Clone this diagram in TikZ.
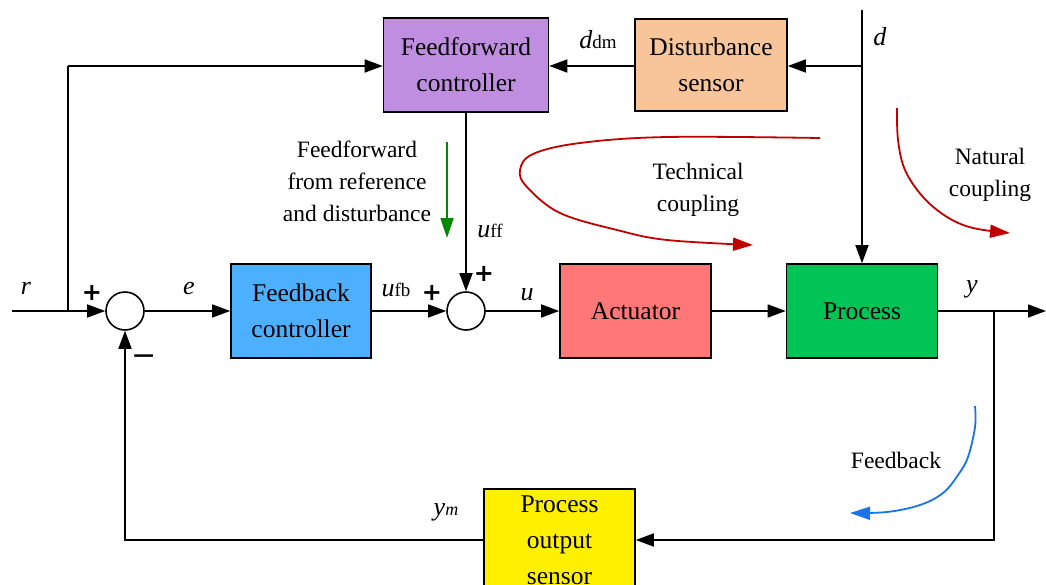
\documentclass[tikz,border=0pt]{standalone}
\usepackage{fontspec}
\setmainfont{Liberation Serif}
\newfontfamily\signfont{DejaVu Sans}
\usetikzlibrary{arrows.meta}
\definecolor{ffcol}{HTML}{BF8EE0}
\definecolor{dscol}{HTML}{F8C59B}
\definecolor{fbcol}{HTML}{4DB0FF}
\definecolor{actcol}{HTML}{FF7777}
\definecolor{proccol}{HTML}{00C456}
\definecolor{senscol}{HTML}{FFF000}
\definecolor{redc}{HTML}{C00000}
\definecolor{greenc}{HTML}{008A00}
\definecolor{bluec}{HTML}{1A73E8}
\newcommand{\sub}[2]{\textit{#1}{\fontsize{19}{19}\selectfont #2}}
\tikzset{
  blk/.style={draw=black, line width=1.6pt, inner sep=0pt, align=center,
    font=\fontsize{25.5}{36}\selectfont},
  sumj/.style={draw=black, line width=1.6pt, circle, fill=white, minimum size=38pt, inner sep=0pt},
  wire/.style={line width=1.6pt, -{Triangle[length=18pt,width=13pt]}},
  pline/.style={line width=1.6pt},
  lbl/.style={font=\fontsize{26}{30}\selectfont, inner sep=0pt},
  ann/.style={font=\fontsize{23.5}{32}\selectfont, align=center, inner sep=0pt},
  sgn/.style={font=\signfont\bfseries\fontsize{24}{24}\selectfont, inner sep=0pt},
  msgn/.style={font=\signfont\fontsize{30}{30}\selectfont, inner sep=0pt},
  curv/.style={line width=1.8pt, -{Triangle[length=20pt,width=13pt]}},
}
\begin{document}
\begin{tikzpicture}[x=1pt,y=-1pt]
\useasboundingbox (0,0) rectangle (1046,584);
% blocks
\node[blk, fill=ffcol, minimum width=165pt, minimum height=94pt] (ff) at (466,65) {Feedforward\\controller};
\node[blk, fill=dscol, minimum width=152pt, minimum height=92pt] (ds) at (711,65) {Disturbance\\sensor};
\node[blk, fill=fbcol, minimum width=140pt, minimum height=94pt] (fb) at (301,311) {Feedback\\controller};
\node[blk, fill=actcol, minimum width=151pt, minimum height=94pt] (act) at (635.5,311) {Actuator};
\node[blk, fill=proccol, minimum width=151pt, minimum height=94pt] (proc) at (862,311) {Process};
\node[blk, fill=senscol, minimum width=151pt, minimum height=102pt] (sens) at (559.5,540) {Process\\output\\sensor};
% summing junctions
\node[sumj] (s1) at (125,311) {};
\node[sumj] (s2) at (466,311) {};
% coordinates
\coordinate (rin) at (12,311);
\coordinate (rb) at (68,311);
\coordinate (yout) at (1046,311);
\coordinate (yb) at (994,311);
\coordinate (dtop) at (862,10);
\coordinate (db) at (862,66);
% wires
\draw[wire] (rin) -- (s1);
\draw[pline] (rb) -- (68,66);
\draw[wire] (68,66) -- (ff.west |- 0,66);
\draw[wire] (s1) -- (fb);
\draw[wire] (fb) -- (s2);
\draw[wire] (s2) -- (act);
\draw[wire] (act) -- (proc);
\draw[wire] (proc) -- (yout);
\draw[wire] (yb) |- (sens.east);
\draw[wire] (sens.west) -| (s1.south);
\draw[wire] (ff) -- (s2);
\draw[wire] (dtop) -- (proc);
\draw[wire] (db) -- (ds.east |- db);
\draw[wire] (ds.west |- 0,66) -- (ff.east |- 0,66);
% labels
\node[lbl] (lr) at (26,288) {\textit{r}};
\node[lbl] (le) at (189,288) {\textit{e}};
\node[lbl] (lufb) at (396,290) {\sub{u}{fb}};
\node[lbl] (lu) at (527,295) {\textit{u}};
\node[lbl] (ly) at (972,289) {\textit{y}};
\node[lbl] (ld) at (880,37) {\textit{d}};
\node[lbl] (lddm) at (598,40) {\sub{d}{dm}};
\node[lbl] (luff) at (490,231) {\sub{u}{ff}};
\node[lbl] (lym) at (446,512) {\textit{y}{\fontsize{18}{18}\selectfont\textit{m}}};
\node[sgn] (p1) at (92,293) {+};
\node[msgn] (m1) at (144,360) {−};
\node[sgn] (p2) at (432,293) {+};
\node[sgn] (p3) at (484,274) {+};
% annotations
\node[ann] (tff) at (357,181) {Feedforward\\from reference\\and disturbance};
\coordinate (ga) at (447,142);
\coordinate (gb) at (447,238);
\draw[curv, greenc] (ga) -- (gb);
\node[ann] (ttc) at (698,190) {Technical\\coupling};
\draw[curv, redc] plot[smooth, tension=0.6] coordinates {(820,138) (667,137) (580,143) (533,154) (520,170) (527,187) (560,213) (617,230) (667,240) (753,245)};
\node[ann] (tnc) at (990,175) {Natural\\coupling};
\draw[curv, redc] plot[smooth, tension=0.6] coordinates {(897,108) (898,140) (905,170) (923,197) (947,217) (973,228) (1010,233)};
\node[ann] (tfb) at (896,460) {Feedback};
\draw[curv, bluec] plot[smooth, tension=0.6] coordinates {(975,406) (975,427) (968,457) (958,475) (943,493) (920,505) (887,512) (850,513)};
\end{tikzpicture}
\end{document}
